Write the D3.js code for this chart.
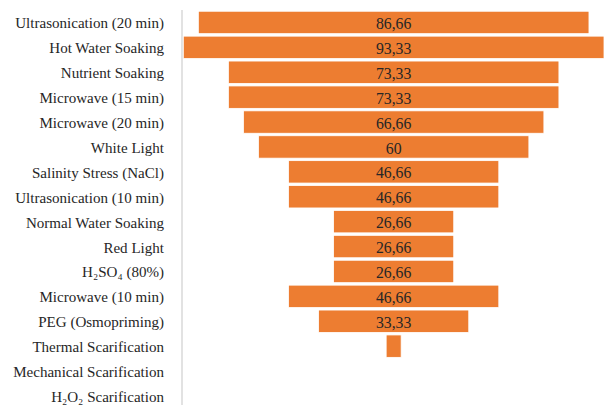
<!DOCTYPE html>
<html>
<head>
<meta charset="utf-8">
<script src="https://cdn.jsdelivr.net/npm/d3@7"></script>
<style>
  html, body { margin: 0; padding: 0; background: #ffffff; }
  svg { display: block; }
  .lbl { font-family: "Liberation Serif", "DejaVu Serif", "Noto Serif", serif; }
</style>
</head>
<body>
<svg id="chart" width="606" height="405"></svg>
<script>
// Germination rate (%) by seed treatment, drawn as a centred funnel
const categories = [
  "Ultrasonication (20 min)",
  "Hot Water Soaking",
  "Nutrient Soaking",
  "Microwave (15 min)",
  "Microwave (20 min)",
  "White Light",
  "Salinity Stress (NaCl)",
  "Ultrasonication (10 min)",
  "Normal Water Soaking",
  "Red Light",
  "H\u2082SO\u2084 (80%)",
  "Microwave (10 min)",
  "PEG (Osmopriming)",
  "Thermal Scarification",
  "Mechanical Scarification",
  "H\u2082O\u2082 Scarification"
];
const values = [86.66, 93.33, 73.33, 73.33, 66.66, 60, 46.66, 46.66, 26.66, 26.66, 26.66, 46.66, 33.33, 3.33, 0, 0];

const svg = d3.select("#chart");
const maxVal = d3.max(values);

// symmetric horizontal scale: a bar spans x(-v) .. x(v)
const x = d3.scaleLinear().domain([-maxVal, maxVal]).range([183.3, 604]);
const y = d3.scaleBand().domain(categories).range([10, 408.4])
  .paddingInner(0.1).paddingOuter(0.05);

const fmt = v => String(Math.round(v * 100) / 100).replace(".", ",");

// vertical category axis line
svg.append("line")
  .attr("x1", 182).attr("x2", 182)
  .attr("y1", 10).attr("y2", 410)
  .attr("stroke", "#d9d9d9").attr("stroke-width", 1.5);

// category labels
const catLabels = svg.append("g").selectAll("text")
  .data(categories)
  .join("text")
  .attr("class", "lbl")
  .attr("x", 164)
  .attr("y", d => y(d) + y.bandwidth() / 2)
  .attr("dy", "0.4em")
  .attr("text-anchor", "end")
  .attr("font-size", 15.3)
  .attr("fill", "#262626")
  .text(d => d);

// size the category font so the longest label spans ~151px
const widest = d3.max(catLabels.nodes(), n => n.getComputedTextLength());
const catSize = 15.3 * 151 / widest;
catLabels.attr("font-size", catSize);

const rows = categories.map((c, i) => ({ c, v: values[i] }));

// bars
svg.append("g").selectAll("rect")
  .data(rows.filter(d => d.v > 0))
  .join("rect")
  .attr("x", d => x(-d.v))
  .attr("y", d => y(d.c))
  .attr("width", d => x(d.v) - x(-d.v))
  .attr("height", y.bandwidth())
  .attr("fill", "#ED7D31")
  .attr("stroke", "#ffffff")
  .attr("stroke-width", 0.8);

// value labels
const cx = x(0);
svg.append("g").selectAll("text")
  .data(rows.filter(d => d.v >= 10))
  .join("text")
  .attr("class", "lbl")
  .attr("x", cx)
  .attr("y", d => y(d.c) + y.bandwidth() / 2)
  .attr("dy", "0.42em")
  .attr("text-anchor", "middle")
  .attr("font-size", catSize * 16 / 15.3)
  .attr("fill", "#262626")
  .text(d => fmt(d.v));
</script>
</body>
</html>
